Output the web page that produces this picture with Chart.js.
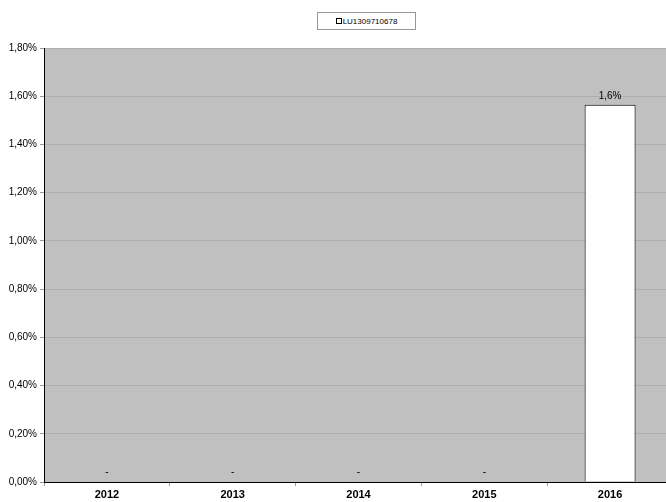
<!DOCTYPE html>
<html>
<head>
<meta charset="utf-8">
<script src="https://cdn.jsdelivr.net/npm/chart.js@4/dist/chart.umd.min.js"></script>
<style>
  html, body { margin: 0; padding: 0; background: #fff; overflow: hidden; }
  #wrap { position: relative; width: 666px; height: 502px; overflow: hidden; }
  #box { position: absolute; left: 0; top: 0; width: 673px; height: 502px; }
  #legend {
    position: absolute; left: 317px; top: 12px; width: 99px; height: 18px;
    border: 1px solid #999; background: #fff; box-sizing: border-box;
    font: 8px "Liberation Sans", Arial, sans-serif; color: #000;
    display: flex; align-items: center; justify-content: center;
  }
  #legend span.sw { display: inline-block; width: 4px; height: 4px; border: 1px solid #000; background: #fff; margin-right: 1px; }
</style>
</head>
<body>
<div id="wrap">
  <div id="box"><canvas id="chart" width="673" height="502"></canvas></div>
  <div id="legend"><span class="sw"></span>LU1309710678</div>
</div>
<script>
const years = ["2012", "2013", "2014", "2015", "2016"];
const perf = [0, 0, 0, 0, 1.565];
const seriesName = "LU1309710678";

// gray plot background
const plotBg = {
  id: "plotBg",
  beforeDraw(chart) {
    const a = chart.chartArea, c = chart.ctx;
    c.save();
    c.fillStyle = "#c0c0c0";
    c.fillRect(a.left, a.top, a.right - a.left, a.bottom - a.top);
    c.restore();
  }
};

// value labels: "1,6%" over bars, "-" for empty years
const valueLabels = {
  id: "valueLabels",
  afterDatasetsDraw(chart) {
    const c = chart.ctx;
    const meta = chart.getDatasetMeta(0);
    c.save();
    c.fillStyle = "#000";
    c.font = "10px 'Liberation Sans', Arial, sans-serif";
    c.textAlign = "center";
    meta.data.forEach((bar, i) => {
      const v = perf[i];
      if (v === 0) {
        c.textBaseline = "middle";
        c.fillText("-", bar.x, chart.chartArea.bottom - 10);
      } else {
        c.textBaseline = "bottom";
        c.fillText(v.toFixed(1).replace(".", ",") + "%", bar.x, bar.y - 3);
      }
    });
    c.restore();
  }
};

new Chart(document.getElementById("chart"), {
  type: "bar",
  data: {
    labels: years,
    datasets: [{
      label: seriesName,
      data: perf,
      backgroundColor: "#ffffff",
      borderColor: "#000000",
      borderWidth: 1,
      categoryPercentage: 1,
      barPercentage: 0.405
    }]
  },
  options: {
    responsive: false,
    animation: false,
    layout: { padding: { top: 48, left: 0, right: 0, bottom: 0 } },
    plugins: { legend: { display: false }, tooltip: { enabled: false } },
    scales: {
      x: {
        grid: { drawOnChartArea: false, tickLength: 4, color: "#999" },
        border: { color: "#000", width: 1 },
        ticks: { color: "#000", font: { family: "'Liberation Sans', Arial, sans-serif", size: 11, weight: "bold" }, padding: 2 },
        afterFit(s) { s.height = 20; }
      },
      y: {
        min: 0, max: 1.8,
        grid: { color: "#adadad", tickLength: 4, tickColor: "#999" },
        border: { color: "#000", width: 1 },
        ticks: {
          stepSize: 0.2, color: "#000", padding: 3,
          font: { family: "'Liberation Sans', Arial, sans-serif", size: 10 },
          callback: v => v.toFixed(2).replace(".", ",") + "%"
        },
        afterFit(s) { s.width = 44; }
      }
    }
  },
  plugins: [plotBg, valueLabels]
});
</script>
</body>
</html>
